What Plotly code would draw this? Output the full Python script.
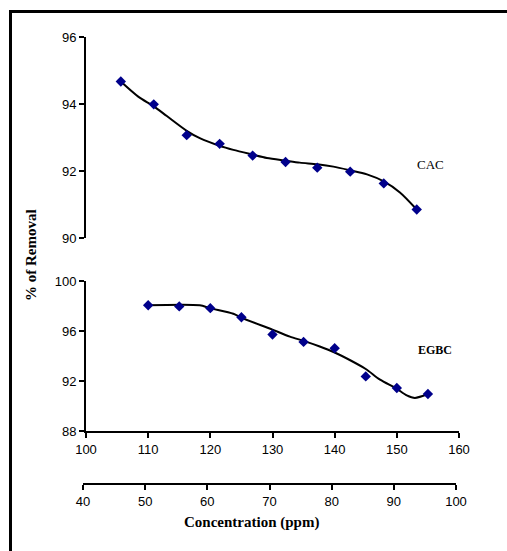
import plotly.graph_objects as go

# ---- data ----
cac_x = [45.6, 50.9, 56.2, 61.5, 66.8, 72.1, 77.2, 82.5, 87.9, 93.2]
cac_y = [94.67, 93.99, 93.07, 92.81, 92.46, 92.27, 92.10, 91.98, 91.63, 90.85]
cac_fit_x = [45.6, 48.4, 50.9, 53.0, 56.2, 58.3, 61.5, 63.7, 66.8, 69.1, 72.1, 74.4,
             77.2, 79.8, 82.5, 85.2, 87.9, 90.5, 93.2]
cac_fit_y = [94.67, 94.22, 93.93, 93.64, 93.20, 92.98, 92.75, 92.63, 92.49, 92.39,
             92.31, 92.25, 92.20, 92.13, 92.02, 91.90, 91.69, 91.36, 90.85]

egbc_x = [110, 115, 120, 125, 130, 135, 140, 145, 150, 155]
egbc_y = [98.06, 97.97, 97.83, 97.10, 95.72, 95.13, 94.62, 92.37, 91.44, 90.96]
egbc_fit_x = [109.8, 118.3, 119.9, 123.7, 125.1, 129.1, 130.0, 132.8, 135.0, 137.6,
              140.0, 142.5, 145.0, 147.3, 149.9, 151.6, 152.9, 155.0]
egbc_fit_y = [98.06, 98.06, 97.83, 97.38, 97.04, 96.28, 96.11, 95.55, 95.21, 94.76,
              94.28, 93.66, 92.96, 92.11, 91.41, 90.85, 90.65, 90.96]

top_ticks = [90, 92, 94, 96]
bottom_ticks = [88, 92, 96, 100]
x_main_ticks = [100, 110, 120, 130, 140, 150, 160]
x_second_ticks = [40, 50, 60, 70, 80, 90, 100]

# ---- layout geometry (pixels) ----
W, H = 507, 551
ML, MR, MT, MB = 83, 48, 36, 67
PW = W - ML - MR
PH = H - MT - MB


def px(x):
    return (x - ML) / PW


def py(y):
    return (H - MB - y) / PH


marker = dict(symbol="diamond", size=8, color="#00008B")
line = dict(color="black", width=2, shape="spline", smoothing=0.8)

fig = go.Figure()
fig.add_trace(go.Scatter(x=[None], y=[None], xaxis="x3", yaxis="y2",
                         showlegend=False, hoverinfo="skip"))
fig.add_trace(go.Scatter(x=cac_fit_x, y=cac_fit_y, mode="lines", line=line,
                         xaxis="x2", yaxis="y", showlegend=False, hoverinfo="skip"))
fig.add_trace(go.Scatter(x=cac_x, y=cac_y, mode="markers", marker=marker,
                         xaxis="x2", yaxis="y", showlegend=False, name="CAC"))
fig.add_trace(go.Scatter(x=egbc_fit_x, y=egbc_fit_y, mode="lines", line=line,
                         xaxis="x", yaxis="y2", showlegend=False, hoverinfo="skip"))
fig.add_trace(go.Scatter(x=egbc_x, y=egbc_y, mode="markers", marker=marker,
                         xaxis="x", yaxis="y2", showlegend=False, name="EGBC"))

tickfont = dict(family="Liberation Sans, Arial, sans-serif", size=13, color="black")
axis_common = dict(showline=True, linecolor="black", linewidth=2, ticks="outside",
                   ticklen=5, tickwidth=2, tickcolor="black", showgrid=False,
                   zeroline=False, tickfont=tickfont)
serif = "Liberation Serif, Times New Roman, serif"

fig.update_layout(
    width=W, height=H,
    margin=dict(l=ML, r=MR, t=MT, b=MB),
    paper_bgcolor="white", plot_bgcolor="rgba(0,0,0,0)",
    xaxis=dict(domain=[px(86), 1], anchor="y2", range=[100, 160],
               tickvals=x_main_ticks, **axis_common),
    xaxis2=dict(domain=[px(86), 1], anchor="y", range=[40, 100], visible=False),
    xaxis3=dict(domain=[0, px(456)], anchor="free", position=0, range=[40, 100],
                tickvals=x_second_ticks, **axis_common),
    yaxis=dict(domain=[py(238), py(37)], anchor="x2", range=[90, 96],
               tickvals=top_ticks, **axis_common),
    yaxis2=dict(domain=[py(431), py(281)], anchor="x", range=[88, 100],
                tickvals=bottom_ticks, **axis_common),
    annotations=[
        dict(text="<b>Concentration (ppm)</b>", x=px(251), y=py(522), xref="paper",
             yref="paper", showarrow=False, xanchor="center", yanchor="middle",
             font=dict(family=serif, size=15, color="black")),
        dict(text="<b>% of Removal</b>", x=px(31), y=py(255), xref="paper",
             yref="paper", showarrow=False, textangle=-90, xanchor="center",
             yanchor="middle", font=dict(family=serif, size=15, color="black")),
        dict(text="CAC", x=px(430), y=py(164), xref="paper", yref="paper",
             showarrow=False, xanchor="center", yanchor="middle",
             font=dict(family=serif, size=13, color="black")),
        dict(text="<b>EGBC</b>", x=px(435), y=py(350), xref="paper", yref="paper",
             showarrow=False, xanchor="center", yanchor="middle",
             font=dict(family=serif, size=12, color="black")),
    ],
    shapes=[
        dict(type="line", xref="paper", yref="paper", x0=px(10.5), x1=px(10.5),
             y0=py(10), y1=py(H), line=dict(color="black", width=3)),
        dict(type="line", xref="paper", yref="paper", x0=px(9), x1=px(W),
             y0=py(11.5), y1=py(11.5), line=dict(color="black", width=3)),
    ],
)

fig.write_html("out.html", config={"displayModeBar": False},
               post_script="document.body.style.margin='0';document.body.style.overflow='hidden';")
